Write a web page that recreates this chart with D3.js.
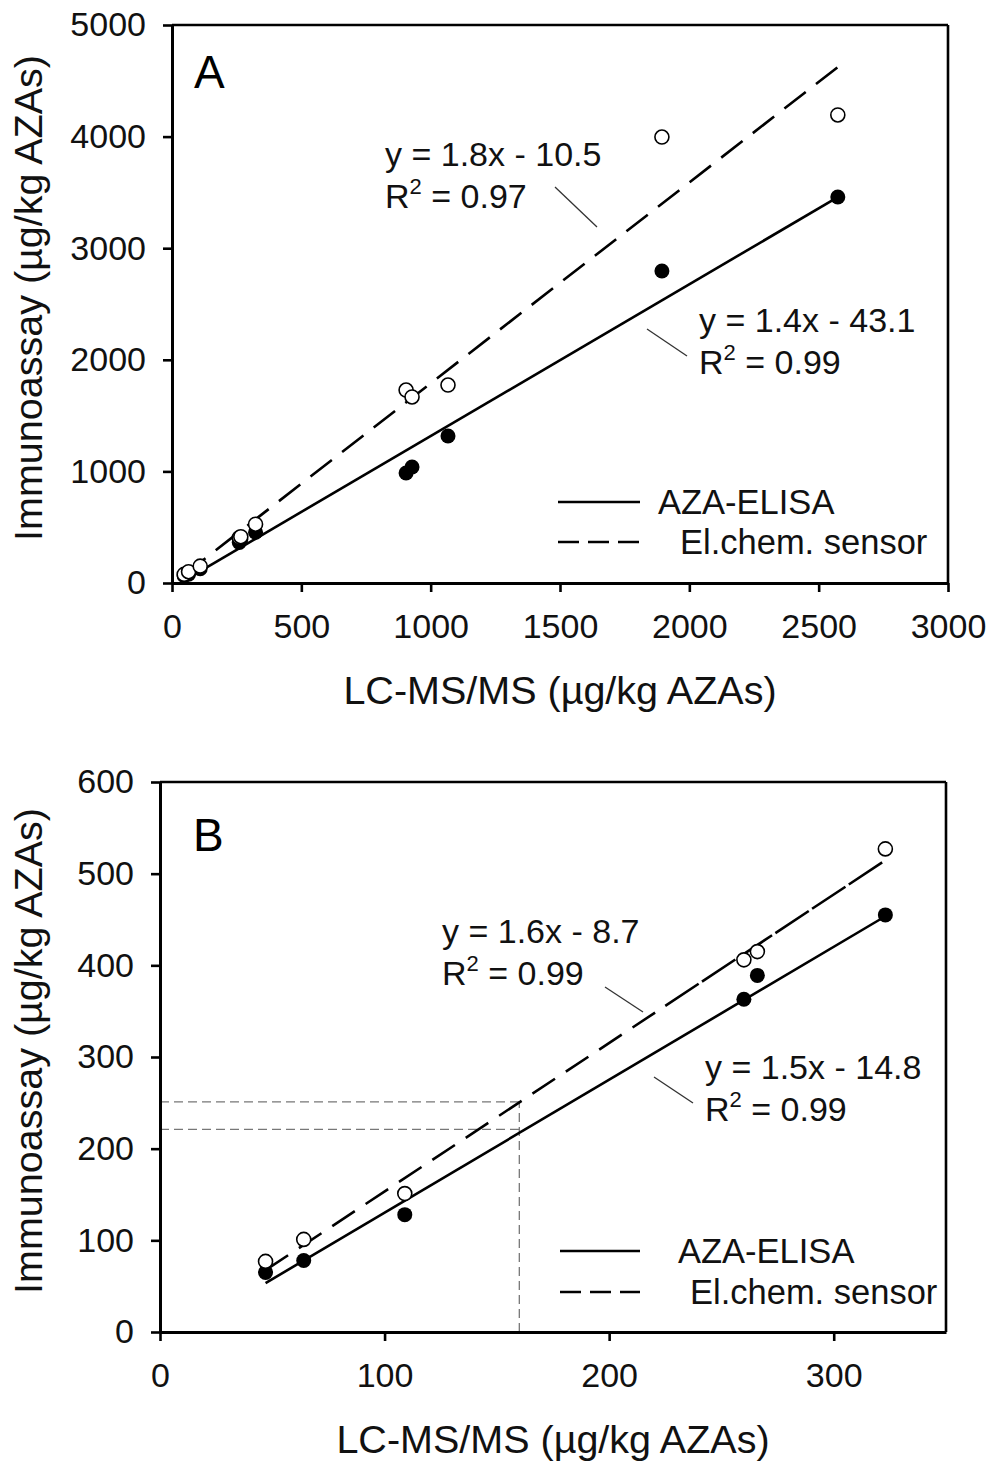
<!DOCTYPE html>
<html lang="en">
<head>
  <meta charset="UTF-8">
  <title>Immunoassay vs LC-MS/MS</title>
  <script src="https://d3js.org/d3.v7.min.js"></script>
  <style>
    body { margin: 0; background: #fff; }
    svg { font-family: "Liberation Sans", Arial, sans-serif; }
    .tick text { font-size: 34px; fill: #111; }
  </style>
</head>
<body>
  <svg></svg>
  <script>
    // LC-MS/MS reference values and immunoassay results (µg/kg AZAs)
    const lcmsA = [47, 64, 109, 260, 266, 323, 905, 928, 1067, 1894, 2574];
    const elisaA = [65, 78, 128, 363, 389, 455, 986, 1039, 1317, 2796, 3459];
    const sensorA = [77, 101, 151, 406, 415, 527, 1729, 1667, 1774, 3996, 4194];

    const lcmsB = [47, 64, 109, 260, 266, 323];
    const elisaB = [65, 78, 128, 363, 389, 455];
    const sensorB = [77, 101, 151, 406, 415, 527];

    // regression lines [slope, intercept] as drawn
    const fitElisaA = [1.36, -43.1];
    const fitSensorA = [1.8, -10.5];
    const fitElisaB = [1.45, -14.8];
    const fitSensorB = [1.62, -8.7];

    const xTicksA = [0, 500, 1000, 1500, 2000, 2500, 3000];
    const yTicksA = [0, 1000, 2000, 3000, 4000, 5000];
    const xTicksB = [0, 100, 200, 300];
    const yTicksB = [0, 100, 200, 300, 400, 500, 600];

    // read-off guide in panel B (x = 160)
    const guideX = 160;
    const guideY = [251, 221];

    const svg = d3.select('svg').attr('width', 990).attr('height', 1461);
    svg.append('rect').attr('width', 990).attr('height', 1461).attr('fill', '#fff');

    function drawPanel(p) {
      const x = d3.scaleLinear().domain(p.xDomain).range([p.left, p.right]);
      const y = d3.scaleLinear().domain(p.yDomain).range([p.bottom, p.top]);
      const g = svg.append('g');

      // guide lines (B only)
      if (p.guide) {
        g.append('line')
          .attr('x1', x(guideX)).attr('x2', x(guideX))
          .attr('y1', y(0)).attr('y2', y(d3.max(guideY)))
          .attr('stroke', '#777').attr('stroke-width', 1.3).attr('stroke-dasharray', '9,5');
        guideY.forEach(v => {
          g.append('line')
            .attr('x1', x(0)).attr('x2', x(guideX))
            .attr('y1', y(v)).attr('y2', y(v))
            .attr('stroke', '#777').attr('stroke-width', 1.3).attr('stroke-dasharray', '9,5');
        });
      }

      // regression lines
      const x0 = d3.min(p.xs), x1 = d3.max(p.xs);
      const fitLine = (f, a, b) => [[a, f[0] * a + f[1]], [b, f[0] * b + f[1]]];
      const line = d3.line().x(d => x(d[0])).y(d => y(d[1]));
      g.append('path').attr('d', line(fitLine(p.fitE, x0, x1)))
        .attr('fill', 'none').attr('stroke', '#000').attr('stroke-width', 2.6);
      p.sensorSegs.forEach(s => {
        g.append('path').attr('d', line(fitLine(p.fitS, s[0] === null ? x0 : s[0], s[1] === null ? x1 : s[1])))
          .attr('fill', 'none').attr('stroke', '#000').attr('stroke-width', 2.6)
          .attr('stroke-dasharray', s[2]);
      });

      // points
      g.selectAll('.pe').data(p.xs.map((v, i) => [v, p.ye[i]])).enter().append('circle')
        .attr('cx', d => x(d[0])).attr('cy', d => y(d[1])).attr('r', 7.5)
        .attr('fill', '#000');
      g.selectAll('.ps').data(p.xs.map((v, i) => [v, p.ys[i]])).enter().append('circle')
        .attr('cx', d => x(d[0])).attr('cy', d => y(d[1])).attr('r', 7)
        .attr('fill', '#fff').attr('stroke', '#000').attr('stroke-width', 1.6);

      // frame
      g.append('line').attr('x1', p.left).attr('x2', p.right).attr('y1', p.top).attr('y2', p.top)
        .attr('stroke', '#000').attr('stroke-width', 2.6);
      g.append('line').attr('x1', p.right).attr('x2', p.right).attr('y1', p.top).attr('y2', p.bottom)
        .attr('stroke', '#000').attr('stroke-width', 2.6);

      const fmt = d3.format('d');
      const xAxis = g.append('g').attr('transform', `translate(0,${p.bottom})`)
        .call(d3.axisBottom(x).tickValues(p.xTicks).tickFormat(fmt).tickSize(9).tickPadding(22).tickSizeOuter(0));
      const yAxis = g.append('g').attr('transform', `translate(${p.left},0)`)
        .call(d3.axisLeft(y).tickValues(p.yTicks).tickFormat(fmt).tickSize(9).tickPadding(17).tickSizeOuter(0));
      [xAxis, yAxis].forEach(a => {
        a.select('.domain').attr('stroke-width', 3);
        a.selectAll('.tick line').attr('stroke-width', 2.6);
      });

      // axis titles
      g.append('text')
        .attr('x', (p.left + p.right) / 2).attr('y', p.bottom + 121)
        .attr('text-anchor', 'middle').attr('font-size', 39.5).attr('fill', '#111')
        .text('LC-MS/MS (µg/kg AZAs)');
      g.append('text')
        .attr('transform', `translate(42,${(p.top + p.bottom) / 2 - 6}) rotate(-90)`)
        .attr('text-anchor', 'middle').attr('font-size', 39.5).attr('fill', '#111')
        .text('Immunoassay (µg/kg AZAs)');

      // panel letter
      g.append('text').attr('x', p.left + p.letterDx).attr('y', p.top + p.letterDy)
        .attr('font-size', 46).attr('fill', '#000').text(p.letter);

      // equations with leader lines
      p.notes.forEach(n => {
        const t = g.append('text').attr('font-size', 34).attr('fill', '#111');
        t.append('tspan').attr('x', n.tx).attr('y', n.ty).text(n.eq);
        t.append('tspan').attr('x', n.tx).attr('y', n.ty + 42).text('R');
        t.append('tspan').attr('dy', -14).attr('font-size', 22).text('2');
        t.append('tspan').attr('dy', 14).text(' = ' + n.r2);
        g.append('line').attr('x1', n.l[0]).attr('y1', n.l[1]).attr('x2', n.l[2]).attr('y2', n.l[3])
          .attr('stroke', '#333').attr('stroke-width', 1.3);
      });

      // legend
      const lg = p.legend;
      g.append('line').attr('x1', lg.x0).attr('x2', lg.x1).attr('y1', lg.y1).attr('y2', lg.y1)
        .attr('stroke', '#000').attr('stroke-width', 2.6);
      g.append('line').attr('x1', lg.x0).attr('x2', lg.x1).attr('y1', lg.y2).attr('y2', lg.y2)
        .attr('stroke', '#000').attr('stroke-width', 2.6).attr('stroke-dasharray', '21,9');
      g.append('text').attr('x', lg.t1).attr('y', lg.y1 + 12).attr('font-size', 34.5).attr('fill', '#111')
        .text('AZA-ELISA');
      g.append('text').attr('x', lg.t2).attr('y', lg.y2 + 12).attr('font-size', 34.5).attr('fill', '#111')
        .text('El.chem. sensor');
    }

    drawPanel({
      letter: 'A', letterDx: 22, letterDy: 63,
      left: 172, right: 948, top: 25, bottom: 583,
      xDomain: [0, 3000], yDomain: [0, 5000], xTicks: xTicksA, yTicks: yTicksA,
      xs: lcmsA, ye: elisaA, ys: sensorA, fitE: fitElisaA, fitS: fitSensorA,
      sensorSegs: [[null, null, '27,13']],
      notes: [
        { eq: 'y = 1.8x - 10.5', r2: '0.97', tx: 385, ty: 166, l: [555, 187, 597, 227] },
        { eq: 'y = 1.4x - 43.1', r2: '0.99', tx: 699, ty: 332, l: [647, 329, 687, 356] }
      ],
      legend: { x0: 558, x1: 640, y1: 502, y2: 542, t1: 658, t2: 680 }
    });

    drawPanel({
      letter: 'B', letterDx: 33, letterDy: 69,
      left: 160, right: 946, top: 782, bottom: 1332,
      xDomain: [0, 350], yDomain: [0, 600], xTicks: xTicksB, yTicks: yTicksB,
      xs: lcmsB, ye: elisaB, ys: sensorB, fitE: fitElisaB, fitS: fitSensorB,
      guide: true,
      sensorSegs: [[null, 225, '27,13'], [225, null, '40,4']],
      notes: [
        { eq: 'y = 1.6x - 8.7', r2: '0.99', tx: 442, ty: 943, l: [605, 987, 643, 1012] },
        { eq: 'y = 1.5x - 14.8', r2: '0.99', tx: 705, ty: 1079, l: [654, 1077, 693, 1103] }
      ],
      legend: { x0: 560, x1: 640, y1: 1251, y2: 1292, t1: 678, t2: 690 }
    });
  </script>
</body>
</html>
